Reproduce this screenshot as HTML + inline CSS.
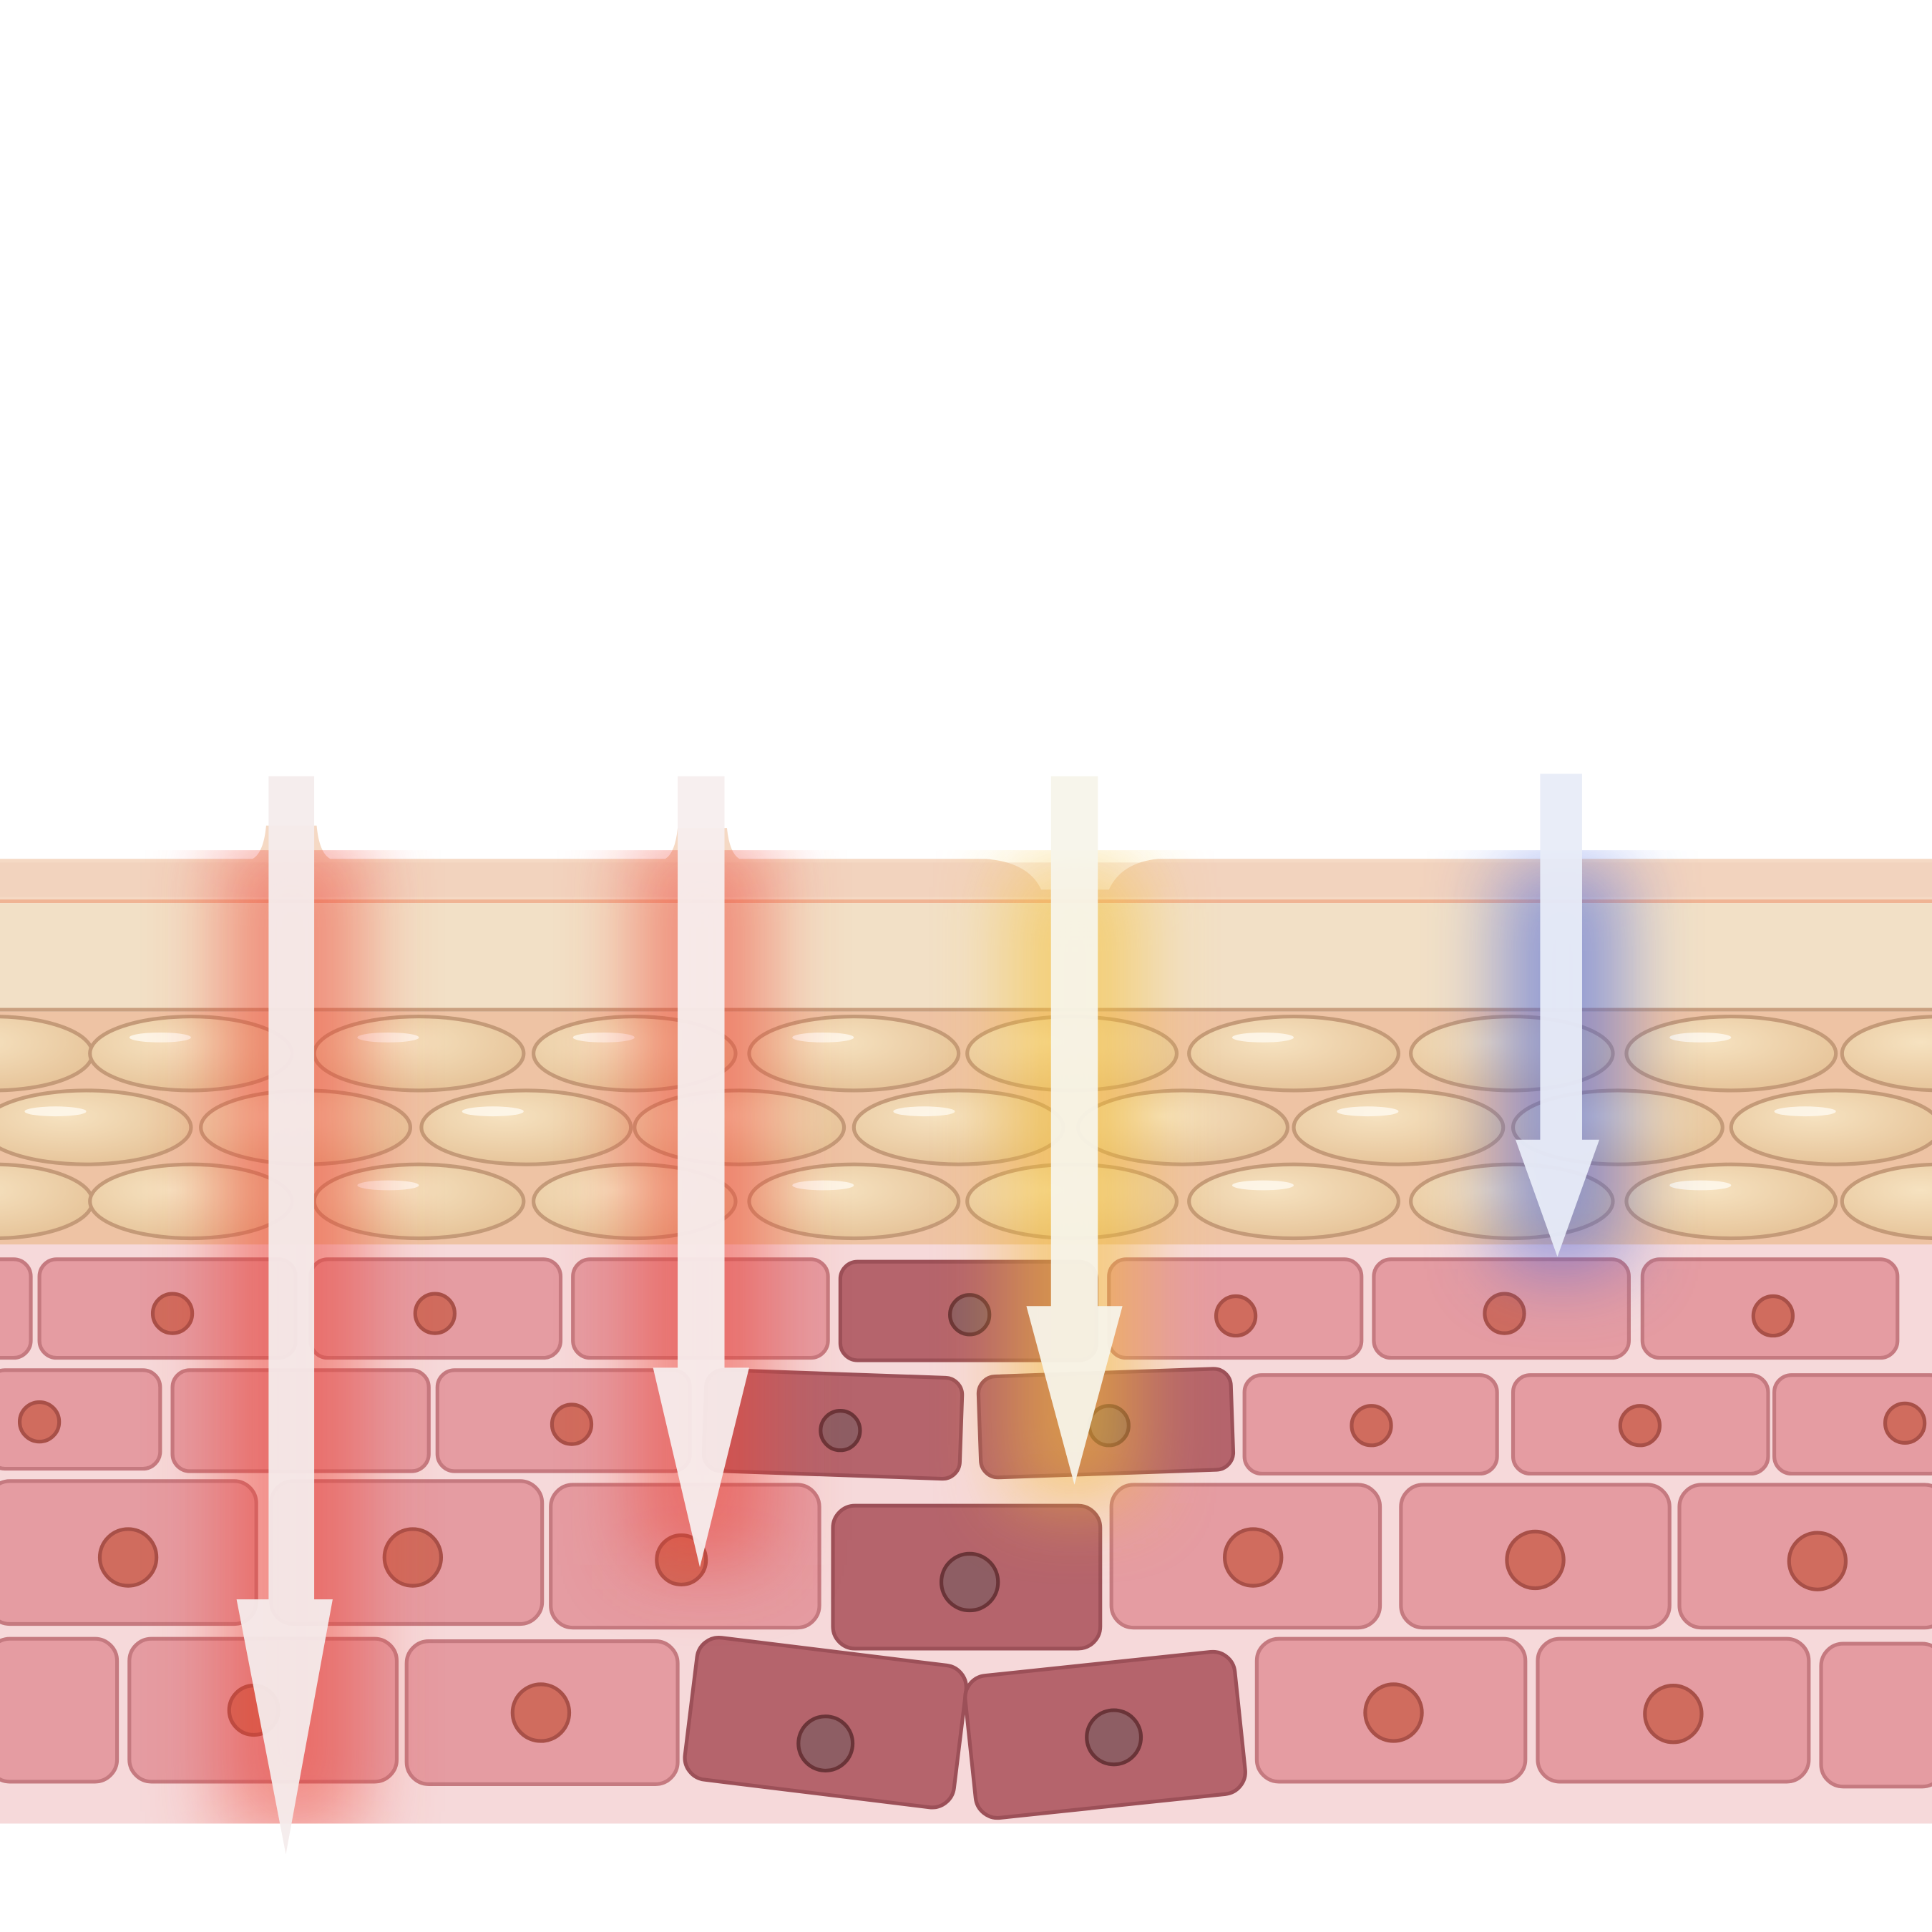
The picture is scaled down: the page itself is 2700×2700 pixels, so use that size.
<!DOCTYPE html>
<html><head><meta charset="utf-8"><style>html,body{margin:0;padding:0;background:#fff}svg{display:block}</style></head>
<body>
<svg width="2700" height="2700" viewBox="0 0 1568 1568" xmlns="http://www.w3.org/2000/svg">
<defs>
<filter id="b30" x="-80%" y="-20%" width="260%" height="140%"><feGaussianBlur stdDeviation="30"/></filter>
<clipPath id="skin"><rect x="0" y="690" width="1568" height="790"/></clipPath>
<radialGradient id="fat" cx="0.4" cy="0.35" r="0.7"><stop offset="0" stop-color="#f6e2c0"/><stop offset="1" stop-color="#e6c398"/></radialGradient>
</defs>
<rect width="1568" height="1568" fill="#fff"/>
<!-- surface -->
<path d="M0 697 L205 697 Q214 692 216 670 L257 670 Q259 692 268 697 L540 697 Q548 692 550 672 L590 672 Q592 692 600 697 L800 697 Q835 700 845 722 L900 722 Q910 700 940 697 L1568 697 L1568 732 L0 732Z" fill="#f5d9c4"/>
<rect x="0" y="700" width="1568" height="28" fill="#efc8b4" opacity="0.35"/>
<rect x="0" y="730" width="1568" height="3" fill="#f0b494"/>
<rect x="0" y="733" width="1568" height="87" fill="#f2e0c6"/>
<rect x="0" y="818" width="1568" height="3" fill="#c9a080"/>
<rect x="0" y="821" width="1568" height="190" fill="#eec3a4"/>
<g stroke="#c49a78" stroke-width="3" fill="url(#fat)">
<g id="r1">
<ellipse cx="-5" cy="855" rx="80" ry="30"/><ellipse cx="155" cy="855" rx="82" ry="30"/><ellipse cx="340" cy="855" rx="85" ry="30"/><ellipse cx="515" cy="855" rx="82" ry="30"/><ellipse cx="693" cy="855" rx="85" ry="30"/><ellipse cx="870" cy="855" rx="85" ry="30"/><ellipse cx="1050" cy="855" rx="85" ry="30"/><ellipse cx="1227" cy="855" rx="82" ry="30"/><ellipse cx="1405" cy="855" rx="85" ry="30"/><ellipse cx="1575" cy="855" rx="80" ry="30"/>
</g>
<ellipse cx="70" cy="915" rx="85" ry="30"/><ellipse cx="248" cy="915" rx="85" ry="30"/><ellipse cx="427" cy="915" rx="85" ry="30"/><ellipse cx="600" cy="915" rx="85" ry="30"/><ellipse cx="778" cy="915" rx="85" ry="30"/><ellipse cx="960" cy="915" rx="85" ry="30"/><ellipse cx="1135" cy="915" rx="85" ry="30"/><ellipse cx="1313" cy="915" rx="85" ry="30"/><ellipse cx="1490" cy="915" rx="85" ry="30"/>
<use href="#r1" y="120"/>
</g>
<g fill="#fffaf0" opacity="0.8">
<ellipse cx="130" cy="842" rx="25" ry="4"/><ellipse cx="315" cy="842" rx="25" ry="4"/><ellipse cx="490" cy="842" rx="25" ry="4"/><ellipse cx="668" cy="842" rx="25" ry="4"/><ellipse cx="1025" cy="842" rx="25" ry="4"/><ellipse cx="1380" cy="842" rx="25" ry="4"/>
<ellipse cx="45" cy="902" rx="25" ry="4"/><ellipse cx="400" cy="902" rx="25" ry="4"/><ellipse cx="750" cy="902" rx="25" ry="4"/><ellipse cx="1110" cy="902" rx="25" ry="4"/><ellipse cx="1465" cy="902" rx="25" ry="4"/>
<ellipse cx="315" cy="962" rx="25" ry="4"/><ellipse cx="668" cy="962" rx="25" ry="4"/><ellipse cx="1025" cy="962" rx="25" ry="4"/><ellipse cx="1380" cy="962" rx="25" ry="4"/>
</g>
<rect x="0" y="1010" width="1568" height="470" fill="#f6d9da"/>
<!-- cells -->
<g stroke="#c57a80" stroke-width="3" fill="#e59ca2">
<rect x="-20" y="1022" width="45" height="80" rx="14"/><rect x="32" y="1022" width="208" height="80" rx="14"/><rect x="252" y="1022" width="203" height="80" rx="14"/><rect x="465" y="1022" width="207" height="80" rx="14"/><rect x="900" y="1022" width="205" height="80" rx="14"/><rect x="1115" y="1022" width="207" height="80" rx="14"/><rect x="1333" y="1022" width="207" height="80" rx="14"/>
<rect x="-10" y="1112" width="140" height="80" rx="14"/><rect x="140" y="1112" width="208" height="82" rx="14"/><rect x="355" y="1112" width="205" height="82" rx="14"/><rect x="1010" y="1116" width="205" height="80" rx="14"/><rect x="1228" y="1116" width="207" height="80" rx="14"/><rect x="1440" y="1116" width="140" height="80" rx="14"/>
<rect x="-10" y="1202" width="218" height="116" rx="18"/><rect x="220" y="1202" width="220" height="116" rx="18"/><rect x="447" y="1205" width="218" height="116" rx="18"/><rect x="902" y="1205" width="218" height="116" rx="18"/><rect x="1137" y="1205" width="218" height="116" rx="18"/><rect x="1363" y="1205" width="217" height="116" rx="18"/>
<rect x="-10" y="1330" width="105" height="116" rx="18"/><rect x="105" y="1330" width="217" height="116" rx="18"/><rect x="330" y="1332" width="220" height="116" rx="18"/><rect x="1020" y="1330" width="218" height="116" rx="18"/><rect x="1248" y="1330" width="220" height="116" rx="18"/><rect x="1478" y="1334" width="100" height="116" rx="18"/>
</g>
<g stroke="#9c5058" stroke-width="3" fill="#b5646c">
<rect x="682" y="1024" width="208" height="80" rx="14"/>
<rect x="572" y="1115" width="208" height="82" rx="14" transform="rotate(2 676 1156)"/>
<rect x="795" y="1114" width="205" height="82" rx="14" transform="rotate(-2 897 1155)"/>
<rect x="676" y="1222" width="217" height="116" rx="18"/>
<rect x="560" y="1340" width="220" height="116" rx="18" transform="rotate(7 670 1398)"/>
<rect x="787" y="1350" width="220" height="116" rx="18" transform="rotate(-6 897 1408)"/>
</g>
<g fill="#d06c5e" stroke="#a85048" stroke-width="3">
<circle cx="140" cy="1066" r="16"/><circle cx="353" cy="1066" r="16"/><circle cx="1003" cy="1068" r="16"/><circle cx="1221" cy="1066" r="16"/><circle cx="1439" cy="1068" r="16"/>
<circle cx="32" cy="1154" r="16"/><circle cx="464" cy="1156" r="16"/><circle cx="1113" cy="1157" r="16"/><circle cx="1331" cy="1157" r="16"/><circle cx="1546" cy="1155" r="16"/>
<circle cx="104" cy="1264" r="23"/><circle cx="335" cy="1264" r="23"/><circle cx="553" cy="1266" r="20"/><circle cx="1017" cy="1264" r="23"/><circle cx="1246" cy="1266" r="23"/><circle cx="1475" cy="1267" r="23"/>
<circle cx="206" cy="1388" r="20"/><circle cx="439" cy="1390" r="23"/><circle cx="1131" cy="1390" r="23"/><circle cx="1358" cy="1391" r="23"/>
</g>
<g fill="#8e5e64" stroke="#6a3438" stroke-width="3">
<circle cx="787" cy="1067" r="16"/><circle cx="682" cy="1161" r="16"/><circle cx="900" cy="1157" r="16"/><circle cx="787" cy="1284" r="23"/><circle cx="670" cy="1415" r="22"/><circle cx="904" cy="1410" r="22"/>
</g>
<!-- glows -->
<g clip-path="url(#skin)">
<rect x="180" y="680" width="115" height="810" fill="#ee4030" opacity="0.5" filter="url(#b30)"/>
<rect x="515" y="680" width="110" height="590" fill="#ee4030" opacity="0.5" filter="url(#b30)"/>
<rect x="820" y="700" width="105" height="520" fill="#f4c030" opacity="0.55" filter="url(#b30)"/>
<rect x="1218" y="700" width="100" height="330" fill="#4060e0" opacity="0.55" filter="url(#b30)"/>
</g>
<!-- arrows -->
<g opacity="0.94">
<path d="M218 630 H255 V1298 H270 L232 1505 L192 1298 H218Z" fill="#f4ecec"/>
<path d="M550 630 H588 V1110 H608 L568 1272 L530 1110 H550Z" fill="#f6eeee"/>
<path d="M853 630 H891 V1060 H911 L872 1205 L833 1060 H853Z" fill="#f6f4ea"/>
<path d="M1250 628 H1284 V925 H1298 L1264 1020 L1230 925 H1250Z" fill="#e8ecf8"/>
</g>
</svg>
</body></html>
